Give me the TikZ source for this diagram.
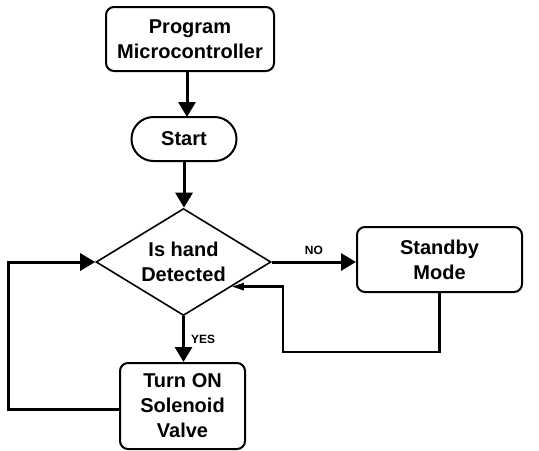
\documentclass[tikz,border=0pt]{standalone}
\usepackage{fontspec}
\setmainfont{Liberation Sans}
\usetikzlibrary{arrows.meta}
\usetikzlibrary{shapes.geometric}

\begin{document}
\begin{tikzpicture}[x = 0.5pt, y = -0.5pt]
\tikzset{BoxStyle/.style = {shape = rectangle,
                            rounded corners = 4pt,
                            draw, line width = 1pt,
                            align = center,
                            font = \fontsize{10}{12.5}\selectfont\bfseries},
         PillStyle/.style = {BoxStyle, rounded corners = 11pt},
         DecisionStyle/.style = {shape = diamond, draw, line width = 0.8pt,
                            aspect = 1.64, inner sep = 0pt,
                            align = center,
                            font = \fontsize{10}{12.5}\selectfont\bfseries},
         Flow/.style = {line width = 1.5pt,
                        -{Triangle[length = 7.5pt, width = 8.5pt]}},
         BackFlow/.style = {line width = 1.2pt,
                        -{Triangle[length = 6pt, width = 3.5pt]}},
         Tag/.style = {font = \fontsize{6}{7}\selectfont\bfseries, inner sep = 1pt}}
\useasboundingbox (0,0) rectangle (539,450);
\node[BoxStyle, minimum width = 84pt, minimum height = 32pt] (prog) at (190,39) {Program\\Microcontroller};
\node[PillStyle, minimum width = 52.5pt, minimum height = 22pt] (start) at (184,139) {Start};
\node[DecisionStyle, minimum width = 87.5pt, minimum height = 53.5pt] (dec) at (183.5,262) {Is hand\\Detected};
\node[BoxStyle, minimum width = 82.5pt, minimum height = 32.5pt] (stby) at (439.5,259.5) {Standby\\Mode};
\node[BoxStyle, minimum width = 62.5pt, minimum height = 43pt] (turn) at (182.5,406) {Turn ON\\Solenoid\\Valve};
\coordinate (loopL) at (8,262);
\coordinate (back) at (283,352);
\draw[Flow] (prog.south -| 187,0) -- (187,117);
\draw[Flow] (start) -- (start |- dec.north);
\draw[Flow] (dec.east) -- node[Tag, above = 2pt] (no) {NO} (dec.east -| stby.west);
\draw[Flow] (dec.south) -- node[Tag, right = 2pt] (yes) {YES} (dec.south |- turn.north);
\draw[BackFlow] (stby.south) |- (back) |- (dec.-27);
\draw[Flow] ([yshift = -1.5pt]turn.west) -| (loopL) -- (dec.west);
\end{tikzpicture}
\end{document}
